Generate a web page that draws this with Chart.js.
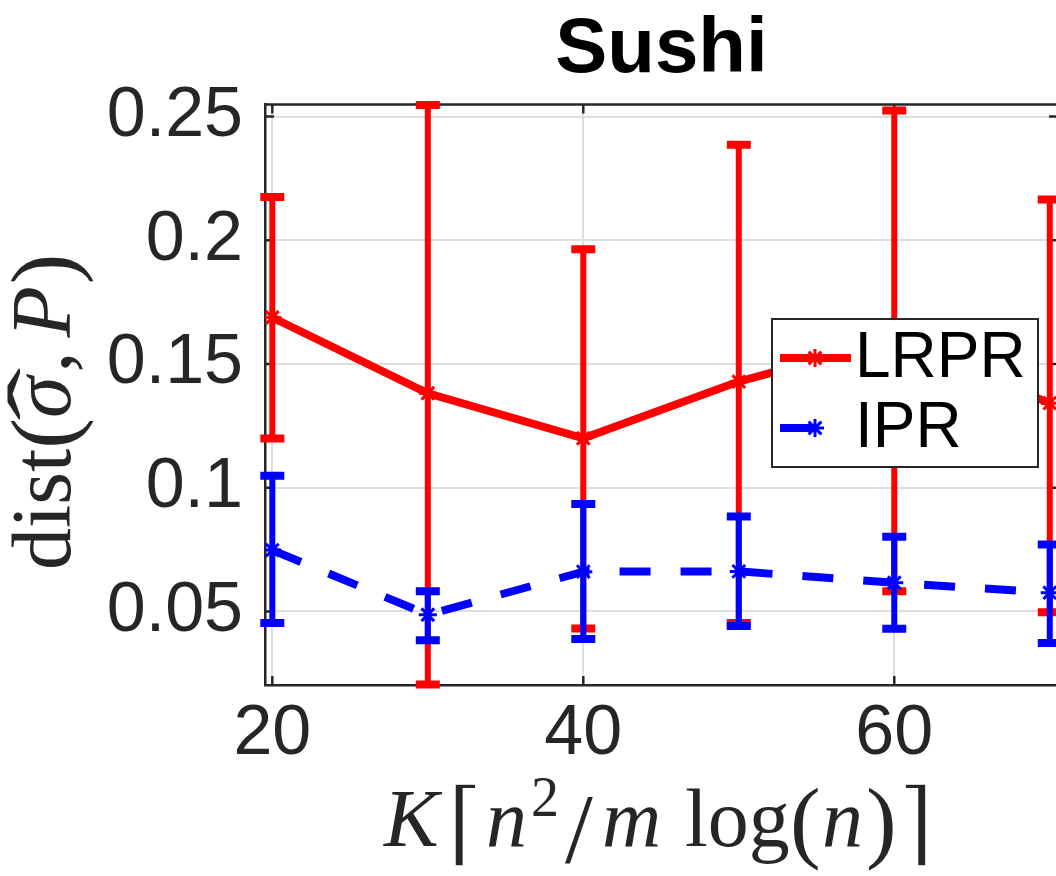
<!DOCTYPE html>
<html>
<head>
<meta charset="utf-8">
<title>Sushi</title>
<script src="https://cdn.jsdelivr.net/npm/chart.js@4.4.1/dist/chart.umd.min.js"></script>
<style>
  html, body { margin: 0; padding: 0; background: #fff; overflow: hidden; }
  #wrap { position: relative; width: 1070px; height: 876px; }
</style>
</head>
<body>
<div id="wrap"><canvas id="chart"></canvas></div>
<script>
// values
const kValues  = [20, 30, 40, 50, 60, 70];
const lrprMean = [0.1688, 0.1382, 0.1200, 0.1429, 0.1600, 0.1342];
const lrprLow  = [0.1199, 0.0205, 0.0431, 0.0453, 0.0582, 0.0497];
const lrprHigh = [0.2175, 0.2547, 0.1964, 0.2386, 0.2525, 0.2165];
const iprMean  = [0.0748, 0.0487, 0.0661, 0.0662, 0.0616, 0.0576];
const iprLow   = [0.0453, 0.0384, 0.0389, 0.0441, 0.0430, 0.0373];
const iprHigh  = [0.1049, 0.0582, 0.0934, 0.0884, 0.0802, 0.0771];
const xTicks = [20, 40, 60];
const yTicks = [0.05, 0.1, 0.15, 0.2, 0.25];
const seriesNames = ['LRPR', 'IPR'];
const seriesColors = ['#ff0000', '#0000ff'];

const sans = '"Liberation Sans", Arial, Helvetica, sans-serif';
const serif = '"Liberation Serif", "DejaVu Serif", serif';
const bracketFont = '"DejaVu Serif", serif';
const axisColor = '#262626';
const dashPattern = [31, 30];

function points(ys) {
    return kValues.map((k, i) => ({x: k, y: ys[i]}));
}

// vertical error bars with caps, drawn right after each series
const errorBars = {
    id: 'errorBars',
    afterDatasetDraw(chart, args) {
        let lo = [lrprLow, iprLow][args.index];
        let hi = [lrprHigh, iprHigh][args.index];
        let ctx = chart.ctx, xs = chart.scales.x, ys = chart.scales.y;
        ctx.save();
        ctx.strokeStyle = seriesColors[args.index];
        ctx.lineCap = 'butt';
        for (let i in kValues) {
            let px = xs.getPixelForValue(kValues[i]);
            let y1 = ys.getPixelForValue(lo[i]);
            let y2 = ys.getPixelForValue(hi[i]);
            ctx.lineWidth = 6;
            ctx.beginPath();
            ctx.moveTo(px, y1);
            ctx.lineTo(px, y2);
            ctx.stroke();
            ctx.lineWidth = 8;
            ctx.beginPath();
            ctx.moveTo(px - 12, y1); ctx.lineTo(px + 12, y1);
            ctx.moveTo(px - 12, y2); ctx.lineTo(px + 12, y2);
            ctx.stroke();
        }
        ctx.restore();
    }
};

// box on top/right plus inward ticks, like matlab axes
const axesBox = {
    id: 'axesBox',
    beforeDatasetsDraw(chart) {
        let ctx = chart.ctx, a = chart.chartArea;
        let xs = chart.scales.x, ys = chart.scales.y;
        ctx.save();
        ctx.strokeStyle = axisColor;
        ctx.lineWidth = 2.5;
        ctx.beginPath();
        ctx.moveTo(a.left, a.top); ctx.lineTo(a.right, a.top);
        ctx.moveTo(a.right, a.top); ctx.lineTo(a.right, a.bottom);
        for (let v of xTicks) {
            let px = xs.getPixelForValue(v);
            ctx.moveTo(px, a.bottom); ctx.lineTo(px, a.bottom - 9);
            ctx.moveTo(px, a.top); ctx.lineTo(px, a.top + 9);
        }
        for (let v of yTicks) {
            let py = ys.getPixelForValue(v);
            ctx.moveTo(a.left, py); ctx.lineTo(a.left + 9, py);
            ctx.moveTo(a.right, py); ctx.lineTo(a.right - 9, py);
        }
        ctx.stroke();
        ctx.restore();
    }
};

function part(ctx, text, style, size, x, y, family) {
    ctx.font = style + ' ' + size + 'px ' + (family || serif);
    ctx.fillText(text, x, y);
    return ctx.measureText(text).width;
}

// thinner bracket: fill, then shave the edges a little with a white outline
function bracket(ctx, text, x, y) {
    ctx.font = 'normal 92px ' + bracketFont;
    ctx.fillText(text, x, y);
    ctx.save();
    ctx.strokeStyle = '#fff';
    ctx.lineWidth = 1.6;
    ctx.strokeText(text, x, y);
    ctx.restore();
}

// latex-like axis labels and the legend box
const labels = {
    id: 'labels',
    afterDraw(chart) {
        let ctx = chart.ctx;
        ctx.save();
        ctx.fillStyle = axisColor;
        ctx.textAlign = 'left';
        ctx.textBaseline = 'alphabetic';

        // x label: K ceil(n^2/m log(n))
        part(ctx, 'K', 'italic', 82, 384, 846);
        bracket(ctx, '\u2308', 447, 854);
        part(ctx, 'n', 'italic', 82, 486, 846);
        part(ctx, '2', 'normal', 56, 531, 816);
        part(ctx, '/', 'normal', 100, 565, 862);
        part(ctx, 'm', 'italic', 82, 602, 846);
        part(ctx, 'log', 'normal', 82, 685, 846);
        part(ctx, '(', 'normal', 92, 790, 851);
        part(ctx, 'n', 'italic', 82, 822, 846);
        part(ctx, ')', 'normal', 92, 866, 851);
        bracket(ctx, '\u2309', 898, 854);

        // y label: dist(sigma hat, P), rotated
        ctx.save();
        ctx.translate(70, 570);
        ctx.rotate(-Math.PI / 2);
        let u = 0;
        u += part(ctx, 'dist', 'normal', 84, u, 0);
        u += part(ctx, '(', 'normal', 92, u, 4);
        let sx = u;
        let sw = part(ctx, '\u03c3', 'italic', 84, u, 0);
        ctx.save();
        ctx.font = 'normal 84px ' + serif;
        let hw = ctx.measureText('\u02c6').width;
        ctx.translate(sx + sw / 2 + 3, -4);
        ctx.scale(1.9, 1);
        ctx.fillText('\u02c6', -hw / 2, 0);
        ctx.restore();
        u += sw + 4;
        u += part(ctx, ',', 'normal', 84, u, 0);
        u += 14;
        u += part(ctx, 'P', 'italic', 84, u, 0);
        u += 2;
        part(ctx, ')', 'normal', 92, u, 4);
        ctx.restore();

        // legend
        let bx = 772, by = 319, bw = 266, bh = 148;
        ctx.fillStyle = '#fff';
        ctx.fillRect(bx, by, bw, bh);
        ctx.strokeStyle = axisColor;
        ctx.lineWidth = 2;
        ctx.strokeRect(bx, by, bw, bh);
        let rows = [358, 428];
        for (let i in seriesNames) {
            let y = rows[i];
            ctx.strokeStyle = seriesColors[i];
            ctx.fillStyle = seriesColors[i];
            ctx.lineWidth = 8;
            ctx.beginPath();
            ctx.moveTo(780, y);
            ctx.lineTo(i == 1 ? 812 : 851, y);
            ctx.stroke();
            ctx.lineWidth = 3;
            Chart.helpers.drawPoint(ctx, {pointStyle: 'star', radius: 9, borderWidth: 3, rotation: 0}, 815, y);
            ctx.fillStyle = '#000';
            ctx.font = '64px ' + sans;
            ctx.fillText(seriesNames[i], 855, y + 19);
        }
        ctx.restore();
    }
};

new Chart(document.getElementById('chart'), {
    type: 'line',
    data: {
        datasets: [
            {
                label: seriesNames[0],
                data: points(lrprMean),
                borderColor: seriesColors[0],
                backgroundColor: seriesColors[0],
                borderWidth: 8,
                pointStyle: 'star',
                pointRadius: 9,
                pointBorderWidth: 3,
                tension: 0,
                fill: false,
                order: 2
            },
            {
                label: seriesNames[1],
                data: points(iprMean),
                borderColor: seriesColors[1],
                backgroundColor: seriesColors[1],
                borderWidth: 8,
                borderDash: dashPattern,
                pointStyle: 'star',
                pointRadius: 9,
                pointBorderWidth: 3,
                tension: 0,
                fill: false,
                order: 1
            }
        ]
    },
    options: {
        responsive: true,
        maintainAspectRatio: false,
        animation: false,
        events: [],
        layout: {padding: {left: 0, right: 12, top: 0, bottom: 0}},
        scales: {
            x: {
                type: 'linear',
                min: 19.53,
                max: 70.53,
                afterBuildTicks: (s) => { s.ticks = xTicks.map(v => ({value: v})); },
                afterFit: (s) => { s.height = 191; },
                ticks: {
                    color: axisColor,
                    font: {family: sans, size: 70},
                    padding: 8,
                    maxRotation: 0,
                    callback: (v) => String(v)
                },
                grid: {color: '#dedede', lineWidth: 2, drawTicks: false},
                border: {display: true, color: axisColor, width: 2.5}
            },
            y: {
                type: 'linear',
                min: 0.02029,
                max: 0.25485,
                afterBuildTicks: (s) => { s.ticks = yTicks.map(v => ({value: v})); },
                afterFit: (s) => { s.width = 265; },
                ticks: {
                    color: axisColor,
                    font: {family: sans, size: 70},
                    padding: 22,
                    callback: (v) => String(v)
                },
                grid: {color: '#dedede', lineWidth: 2, drawTicks: false},
                border: {display: true, color: axisColor, width: 2.5}
            }
        },
        plugins: {
            legend: {display: false},
            tooltip: {enabled: false},
            title: {
                display: true,
                text: 'Sushi',
                fullSize: false,
                color: '#000',
                font: {family: sans, size: 78, weight: 'bold', lineHeight: 1.2},
                padding: {top: 4, bottom: 7}
            }
        }
    },
    plugins: [errorBars, axesBox, labels]
});
</script>
</body>
</html>
